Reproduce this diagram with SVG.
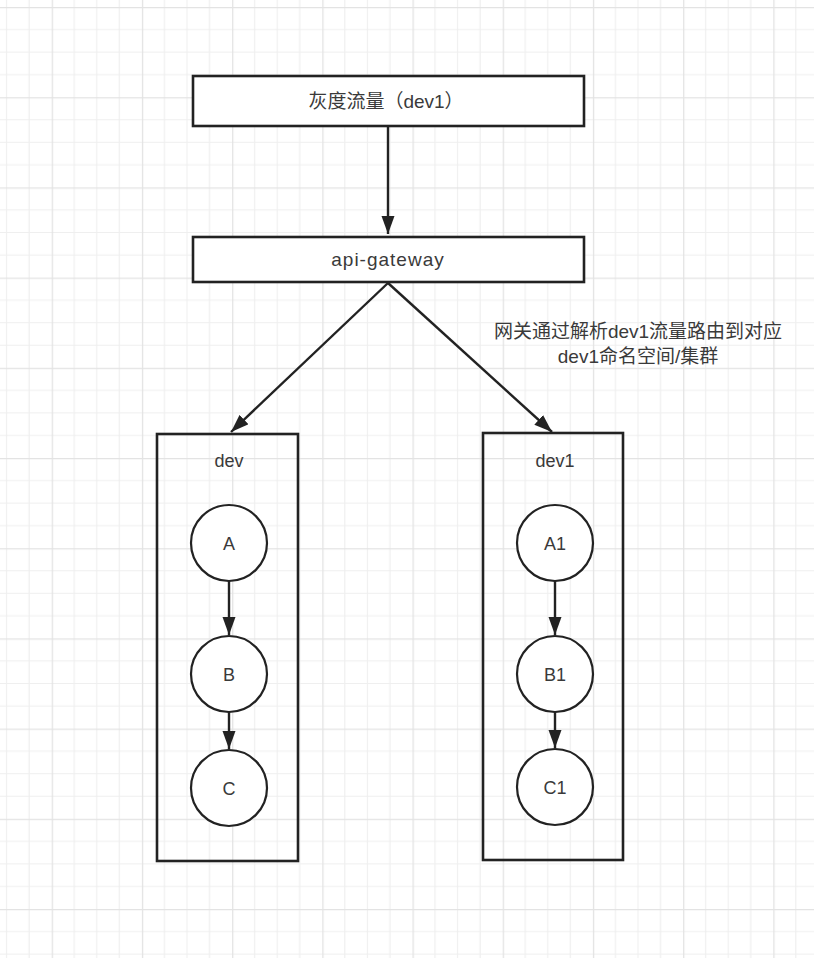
<svg xmlns="http://www.w3.org/2000/svg" width="814" height="958" viewBox="0 0 814 958">
<style>
.box{fill:#fff;stroke:#222;stroke-width:2.6}
.node{fill:#fff;stroke:#222;stroke-width:2.2}
.lbl{font-family:"Liberation Sans","Noto Sans CJK SC",sans-serif;font-size:18px;fill:#3a3a3a;text-anchor:middle}
.big{font-size:19px}
.edge{stroke:#222;stroke-width:2.4;fill:none}
</style>
<defs>
<pattern id="grid" patternUnits="userSpaceOnUse" x="51.7" y="97.2" width="90.2" height="90.2">
<path d="M22.55 0V90.2M45.1 0V90.2M67.65 0V90.2M0 22.55H90.2M0 45.1H90.2M0 67.65H90.2" stroke="#efefef" stroke-width="1.2" fill="none"/>
<path d="M0.5 0V90.2M0 0.5H90.2" stroke="#e3e3e3" stroke-width="1.6" fill="none"/>
</pattern>
<marker id="arr" markerUnits="userSpaceOnUse" markerWidth="20" markerHeight="14" refX="18" refY="6.5" orient="auto">
<path d="M0 0L18 6.5L0 13Z" fill="#222"/>
</marker>
</defs>
<rect width="814" height="958" fill="#fff"/>
<rect width="814" height="958" fill="url(#grid)"/>

<g id="connectors">
<line class="edge" x1="388" y1="126" x2="388" y2="234" marker-end="url(#arr)"/>
<line class="edge" x1="388" y1="283" x2="231" y2="432" marker-end="url(#arr)"/>
<line class="edge" x1="388" y1="283" x2="552" y2="432" marker-end="url(#arr)"/>
<line class="edge" x1="229" y1="581" x2="229" y2="635" marker-end="url(#arr)"/>
<line class="edge" x1="229" y1="712" x2="229" y2="749" marker-end="url(#arr)"/>
<line class="edge" x1="555" y1="581" x2="555" y2="635" marker-end="url(#arr)"/>
<line class="edge" x1="555" y1="712" x2="555" y2="748" marker-end="url(#arr)"/>
</g>

<g id="traffic">
<rect class="box" x="193" y="76" width="391" height="50"/>
<text class="lbl big" x="386" y="108">灰度流量（dev1）</text>
</g>
<g id="gateway">
<rect class="box" x="193" y="237" width="391" height="45"/>
<text class="lbl big" x="388" y="266" letter-spacing="1">api-gateway</text>
</g>
<g id="note">
<text class="lbl big" x="638" y="338">网关通过解析dev1流量路由到对应</text>
<text class="lbl big" x="638" y="363">dev1命名空间/集群</text>
</g>

<g id="dev">
<rect class="box" x="157" y="434" width="141" height="427" style="fill:none"/>
<text class="lbl" x="229" y="467">dev</text>
</g>
<g id="nodeA"><circle class="node" cx="229" cy="543" r="38"/><text class="lbl" x="229" y="550">A</text></g>
<g id="nodeB"><circle class="node" cx="229" cy="674" r="38"/><text class="lbl" x="229" y="681">B</text></g>
<g id="nodeC"><circle class="node" cx="229" cy="788" r="38"/><text class="lbl" x="229" y="795">C</text></g>

<g id="dev1">
<rect class="box" x="483" y="433" width="140" height="427" style="fill:none"/>
<text class="lbl" x="555" y="467">dev1</text>
</g>
<g id="nodeA1"><circle class="node" cx="555" cy="543" r="38"/><text class="lbl" x="555" y="550">A1</text></g>
<g id="nodeB1"><circle class="node" cx="555" cy="674" r="38"/><text class="lbl" x="555" y="681">B1</text></g>
<g id="nodeC1"><circle class="node" cx="555" cy="787" r="38"/><text class="lbl" x="555" y="794">C1</text></g>
</svg>
